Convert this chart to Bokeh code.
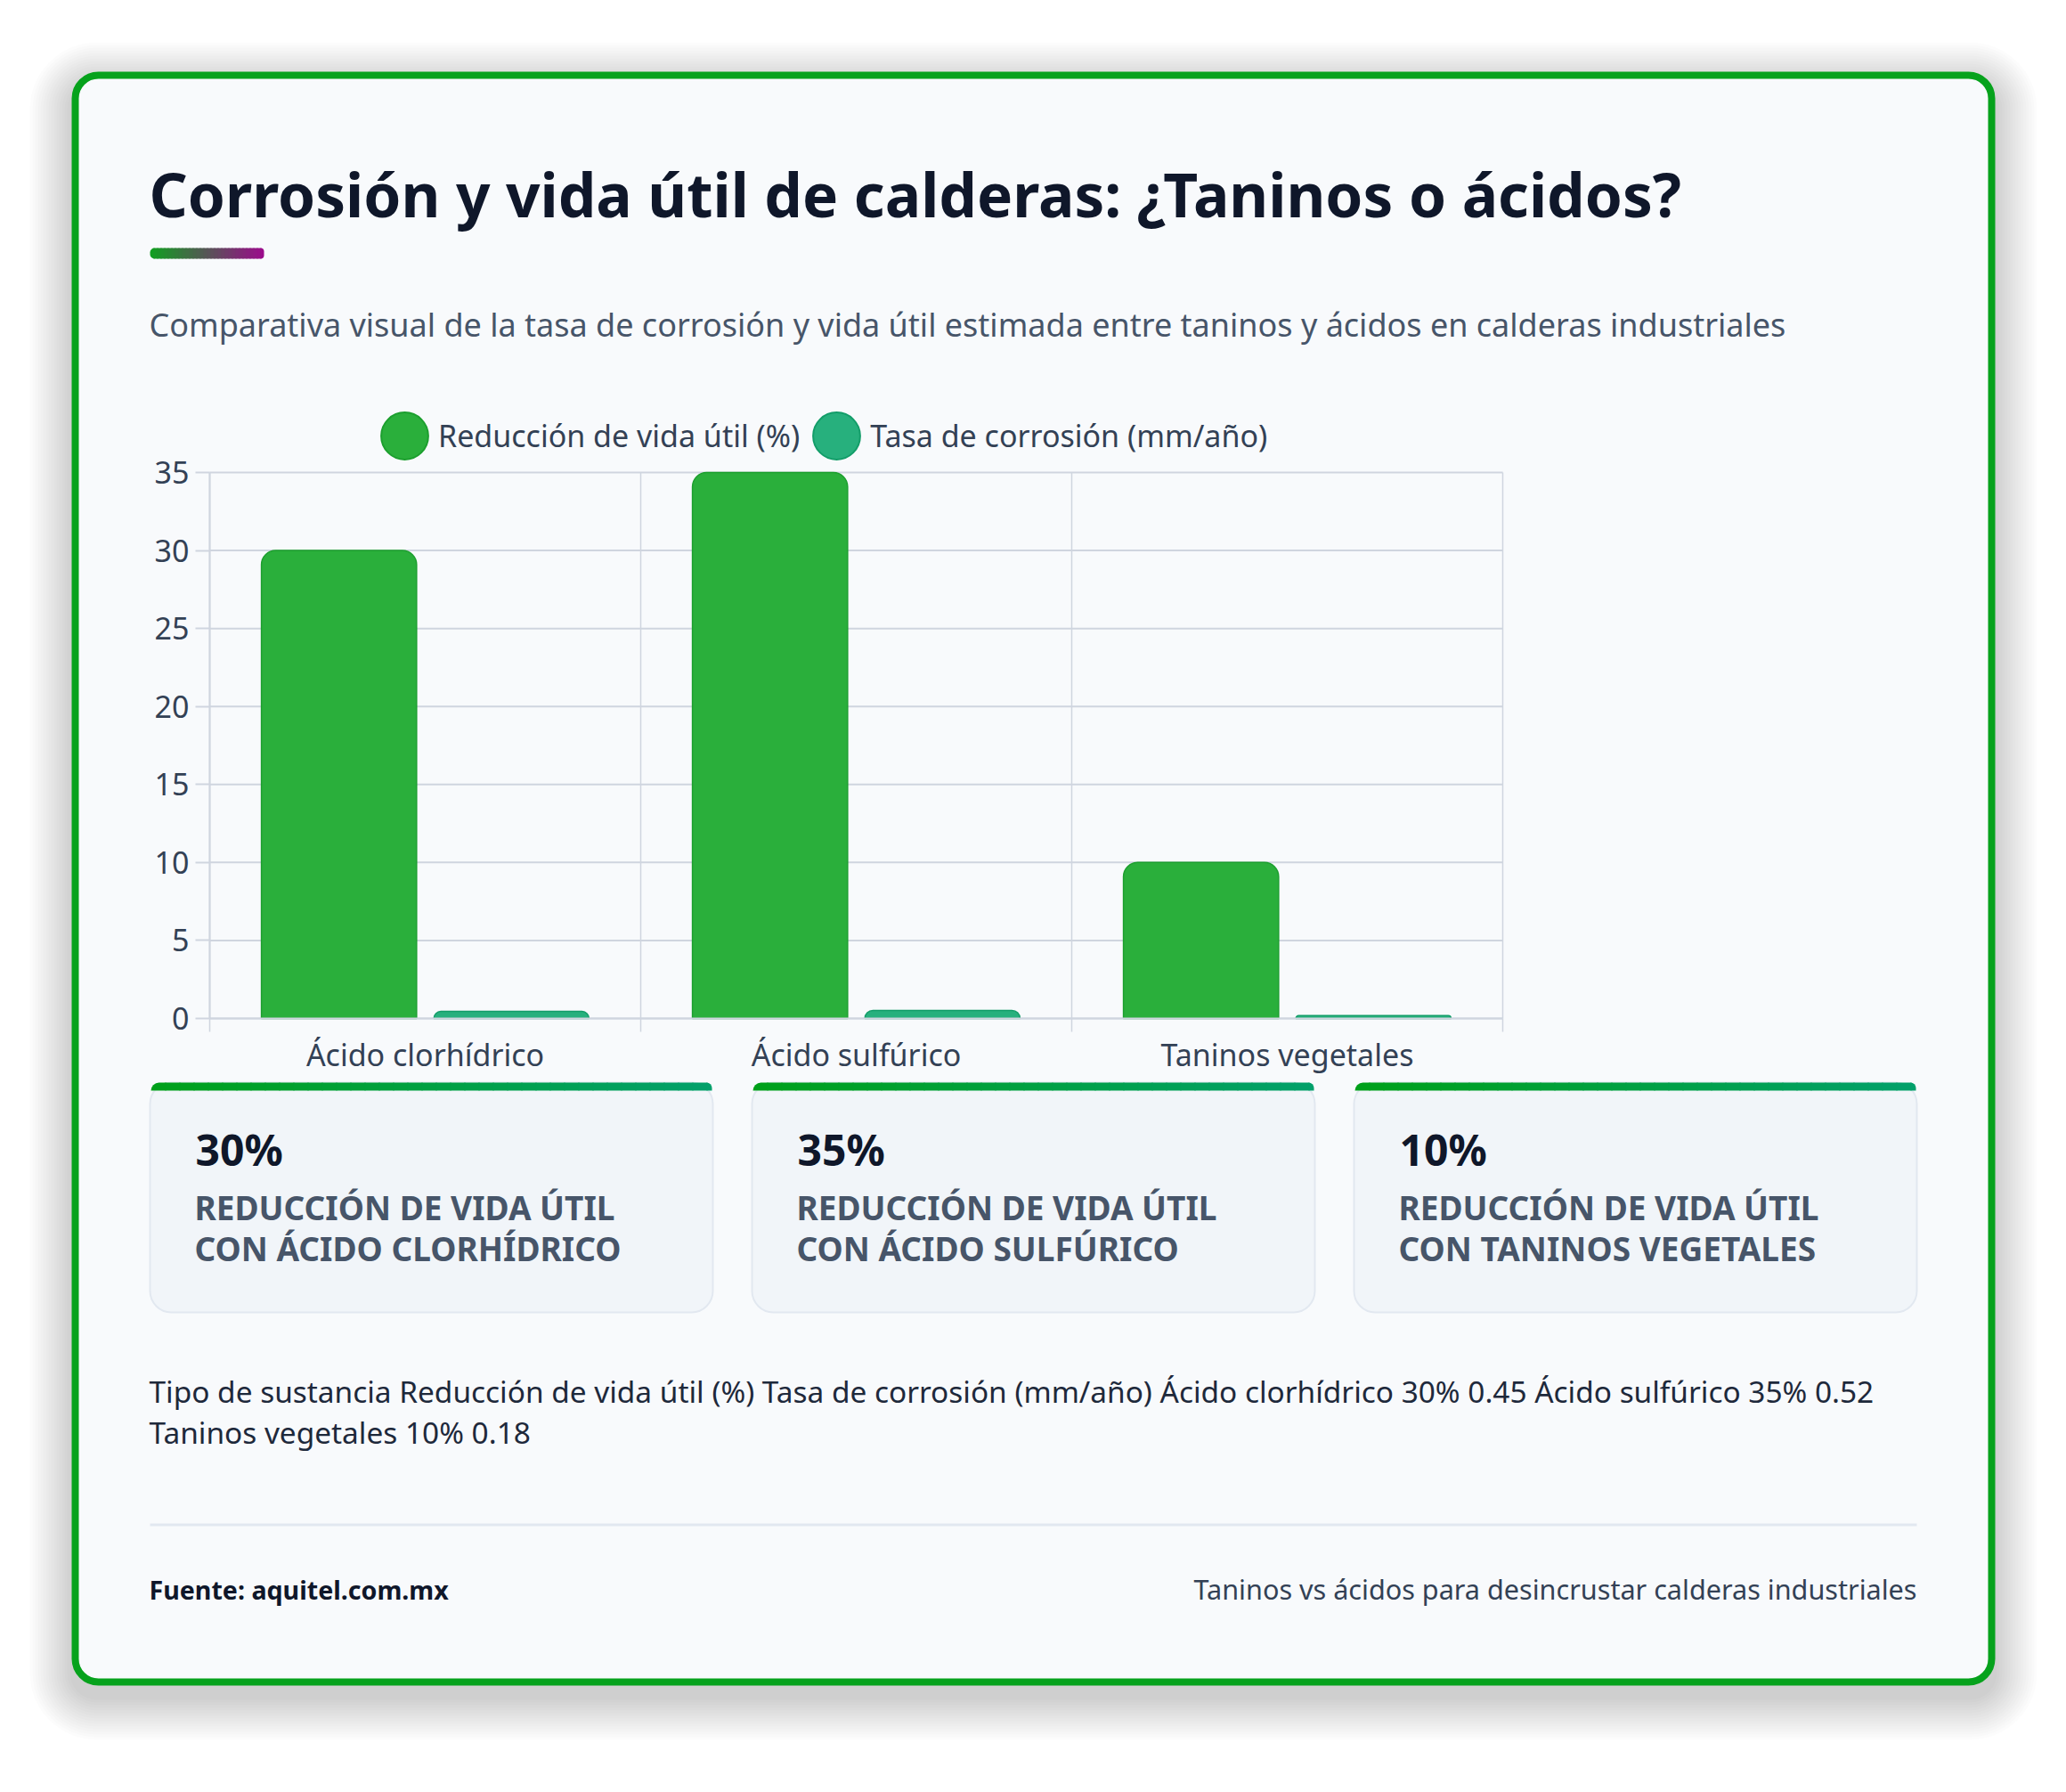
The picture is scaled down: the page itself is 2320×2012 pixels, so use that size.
import numpy as np
from bokeh.plotting import figure
from bokeh.models import (ColumnDataSource, Range1d, FixedTicker, BoxAnnotation, Label,
                          Legend, LegendItem, LinearAxis, CustomJSTickFormatter)
from bokeh.transform import dodge
from bokeh.embed import file_html
from bokeh.resources import INLINE

# ---- data -------------------------------------------------------------
categories = ["Ácido clorhídrico", "Ácido sulfúrico", "Taninos vegetales"]
reduccion_vida = [30, 35, 10]          # %
tasa_corrosion = [0.45, 0.52, 0.18]    # mm/año
series_names = ["Reducción de vida útil (%)", "Tasa de corrosión (mm/año)"]
y_ticks = [0, 5, 10, 15, 20, 25, 30, 35]
table_header = "Tipo de sustancia"

title_text = "Corrosión y vida útil de calderas: ¿Taninos o ácidos?"
subtitle_text = ("Comparativa visual de la tasa de corrosión y vida útil estimada "
                 "entre taninos y ácidos en calderas industriales")
source_text = "Fuente: aquitel.com.mx"
footer_text = "Taninos vs ácidos para desincrustar calderas industriales"

# ---- page geometry (canvas pixels) ------------------------------------
W, H = 2320, 2012
CL, CR, CT, CB = 235, 1687, 530, 1143   # chart area inside the page
FONT = "Noto Sans"

GREEN = "#2aaf3b"
GREEN_LINE = "#1c9f2e"
TEAL = "#27b07d"
TEAL_LINE = "#139d69"
GRID = "#cfd5df"
SLATE = "#334155"

n = len(categories)
y_max = y_ticks[-1]
ppx = (CR - CL) / n          # pixels per category
ppy = (CB - CT) / y_max      # pixels per unit of value

# the frame fills the whole page; ranges are set so the chart lands in its area
p = figure(width=W, height=H,
           x_range=Range1d(-CL / ppx, n + (W - CR) / ppx),
           y_range=Range1d(-(H - CB) / ppy, y_max + CT / ppy),
           x_axis_type=None, y_axis_type=None,
           output_backend="svg", toolbar_location=None, title=None, min_border=0)
p.border_fill_color = "#ffffff"
p.background_fill_color = "#ffffff"
p.outline_line_color = None


def sx(px):
    return px


def sy(py):
    return H - py


def box(x0, y0, x1, y1, fill, alpha=1.0, line=None, lw=0, radius=0, level="image"):
    p.add_layout(BoxAnnotation(
        left=sx(x0), right=sx(x1), top=sy(y0), bottom=sy(y1),
        left_units="screen", right_units="screen", top_units="screen", bottom_units="screen",
        fill_color=fill, fill_alpha=alpha, line_color=line, line_width=lw,
        line_alpha=1.0 if line else 0.0, border_radius=radius, level=level))


def label(text, x, baseline, size, color, bold=False, align="left"):
    # the text box sits about 0.41em below the anchor; lift it so `baseline` is the baseline
    p.add_layout(Label(
        x=sx(x), y=sy(baseline - 0.41 * size), x_units="screen", y_units="screen", text=text,
        text_font=FONT, text_font_size=f"{size}px",
        text_font_style="bold" if bold else "normal",
        text_color=color, text_align=align, text_baseline="alphabetic"))


def mix(c0, c1, t):
    r, g, b = (int(round(a + (b_ - a) * t)) for a, b_ in zip(c0, c1))
    return f"#{r:02x}{g:02x}{b:02x}"


def gradient_bar(x0, y0, x1, y1, c0, c1, step, r_left, r_right):
    edges = list(np.arange(x0, x1, step)) + [x1]
    k = len(edges) - 1
    for i in range(k):
        rad = (0, 0, 0, 0)
        if i == 0:
            rad = r_left
        elif i == k - 1:
            rad = r_right
        # slight overlap hides seams between segments
        box(edges[i], y0, min(edges[i + 1] + 1, x1), y1, mix(c0, c1, (i + 0.5) / k), radius=rad)


# ---- card shadow, card and header -------------------------------------
for i in range(16):
    e = 3 * i + 2
    box(80 - e, 80 - e + 14, 2240 + e, 1892 + e + 14, "#0f172a", alpha=0.012, radius=28 + e)
box(84, 84, 2236, 1888, "#f8fafc", line="#06a21c", lw=8, radius=26)

label(title_text, 167, 245, 67.5, "#0f172a", bold=True)
gradient_bar(168, 278, 296, 290, (16, 160, 32), (156, 10, 140), 4, (6, 0, 0, 6), (0, 6, 6, 0))
label(subtitle_text, 167, 379, 36, "#475569")

# ---- bar chart --------------------------------------------------------
boundaries = list(range(n + 1))
centers = list(np.arange(n) + 0.5)

# grid
p.segment(x0=0, x1=n, y0=y_ticks, y1=y_ticks, line_color=GRID, line_width=2)
p.segment(x0=boundaries, x1=boundaries, y0=0, y1=y_max, line_color=GRID, line_width=1.5)

src = ColumnDataSource(dict(pos=centers, cat=categories, red=reduccion_vida, cor=tasa_corrosion))
p.vbar(x=dodge("pos", -0.2), top="red", bottom=0, width=0.36, source=src,
       fill_color=GREEN, line_color=GREEN_LINE, line_width=1.5, border_radius=(16, 16, 0, 0))
p.vbar(x=dodge("pos", 0.2), top="cor", bottom=0, width=0.36, source=src,
       fill_color=TEAL, line_color=TEAL_LINE, line_width=1.5, border_radius=(16, 16, 0, 0))

# axes pinned to the chart origin
xa = LinearAxis(fixed_location=0, bounds=(0, n),
                ticker=FixedTicker(ticks=centers, minor_ticks=boundaries),
                formatter=CustomJSTickFormatter(args=dict(names=categories),
                                                code="return names[Math.floor(tick)] || ''"))
xa.major_tick_line_color = None
xa.major_tick_out = 0
xa.major_tick_in = 0
xa.minor_tick_line_color = GRID
xa.minor_tick_line_width = 1.5
xa.minor_tick_out = 15
xa.minor_tick_in = 0
xa.axis_line_color = GRID
xa.axis_line_width = 2
xa.major_label_standoff = 2
xa.major_label_text_font = FONT
xa.major_label_text_font_size = "34px"
xa.major_label_text_color = SLATE
p.add_layout(xa, "below")

ya = LinearAxis(fixed_location=0, bounds=(0, y_max), ticker=FixedTicker(ticks=y_ticks))
ya.major_tick_line_color = GRID
ya.major_tick_line_width = 2
ya.major_tick_out = 16
ya.major_tick_in = 0
ya.minor_tick_line_color = None
ya.axis_line_color = GRID
ya.axis_line_width = 2
ya.major_label_standoff = 7
ya.major_label_text_font = FONT
ya.major_label_text_font_size = "34px"
ya.major_label_text_color = SLATE
p.add_layout(ya, "left")

# legend with round swatches (the proxy glyphs themselves stay off the chart)
nan_src = ColumnDataSource(dict(x=np.array([np.nan]), y=np.array([np.nan])))
sw1 = p.ellipse(x="x", y="y", width=53, height=53, width_units="screen", height_units="screen",
                source=nan_src, fill_color=GREEN, line_color=GREEN_LINE, line_width=2)
sw2 = p.ellipse(x="x", y="y", width=53, height=53, width_units="screen", height_units="screen",
                source=nan_src, fill_color=TEAL, line_color=TEAL_LINE, line_width=2)
legend = Legend(items=[LegendItem(label=series_names[0], renderers=[sw1]),
                       LegendItem(label=series_names[1], renderers=[sw2])],
                location=(421, H - 522), orientation="horizontal",
                glyph_width=66, glyph_height=66, label_standoff=5, spacing=8,
                padding=0, margin=0, border_line_color=None, background_fill_alpha=0,
                label_text_font=FONT, label_text_font_size="34px", label_text_color=SLATE)
p.add_layout(legend)

# ---- stat cards -------------------------------------------------------
card_w, card_gap = 632, 44
for i, (cat, val) in enumerate(zip(categories, reduccion_vida)):
    x0 = 168 + i * (card_w + card_gap)
    x1 = x0 + card_w
    box(x0, 1215, x1, 1473, "#f1f5f9", line="#e2e8f0", lw=2, radius=24)
    gradient_bar(x0 + 1, 1215, x1 - 1, 1224, (0, 160, 26), (2, 160, 108), 16,
                 (14, 0, 0, 0), (0, 14, 0, 0))
    label(f"{val}%", x0 + 51, 1310, 48, "#0f172a", bold=True)
    label("REDUCCIÓN DE VIDA ÚTIL", x0 + 50, 1370, 37, "#475569", bold=True)
    label(f"CON {cat.upper()}", x0 + 50, 1416, 37, "#475569", bold=True)

# ---- data table as running text ----------------------------------------
rows = [f"{c} {r}% {t}" for c, r, t in zip(categories, reduccion_vida, tasa_corrosion)]
line1 = " ".join([table_header] + series_names + rows[:2])
line2 = " ".join(rows[2:])
label(line1, 167, 1575, 33.4, "#1e293b")
label(line2, 167, 1621, 33.4, "#1e293b")

# ---- footer -------------------------------------------------------------
box(168, 1710, 2152, 1713, "#e2e8f0")
label(source_text, 167, 1796, 28.6, "#0f172a", bold=True)
label(footer_text, 2152, 1796, 30.6, SLATE, align="right")

open("out.html", "w").write(file_html(p, INLINE))
